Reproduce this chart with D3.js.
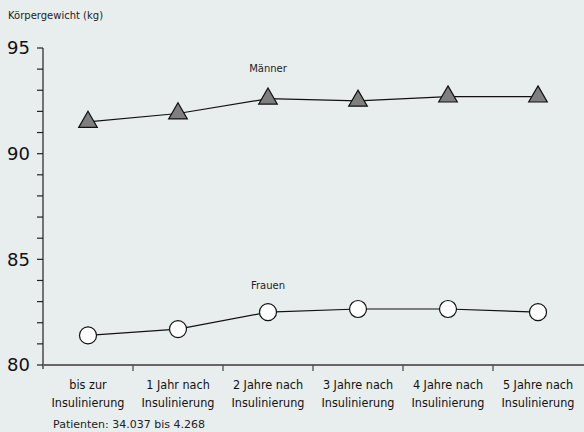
<!DOCTYPE html>
<html><head><meta charset="utf-8">
<script src="https://cdn.jsdelivr.net/npm/d3@7"></script>
<style>
html,body{margin:0;padding:0;background:#e8eeee;}
svg{display:block;font-family:Tahoma,"DejaVu Sans",Verdana,sans-serif;}
</style></head>
<body><svg id="c" width="584" height="432"></svg>
<script>
const categories = [["bis zur","Insulinierung"],["1 Jahr nach","Insulinierung"],["2 Jahre nach","Insulinierung"],["3 Jahre nach","Insulinierung"],["4 Jahre nach","Insulinierung"],["5 Jahre nach","Insulinierung"]];
const maenner = [91.5, 91.9, 92.6, 92.5, 92.7, 92.7];
const frauen = [81.4, 81.7, 82.5, 82.65, 82.65, 82.5];
const yTicks = [80, 85, 90, 95];
const seriesLabels = ["Männer", "Frauen"];

const svg = d3.select("#c");
const x = d3.scaleBand().domain(d3.range(categories.length)).range([43, 583]);
const y = d3.scaleLinear().domain([80, 95]).range([365, 48]);

svg.append("rect").attr("width",584).attr("height",432).attr("fill","#e8eeee");

// y axis
const ya = svg.append("g");
ya.append("line").attr("x1",43).attr("x2",43).attr("y1",y(95)).attr("y2",369).attr("stroke","#222").attr("stroke-width",1.2);
ya.selectAll(".mt").data(d3.range(80,96,1)).join("line")
  .attr("x1",37).attr("x2",43).attr("y1",d=>y(d)).attr("y2",d=>y(d)).attr("stroke","#222").attr("stroke-width",1.2);
ya.selectAll("text").data(yTicks).join("text")
  .attr("x",30).attr("y",d=>y(d)).attr("dy","0.36em").attr("text-anchor","end")
  .attr("font-size",18).attr("fill","#111").text(d=>d);

// x axis
const xa = svg.append("g");
xa.append("line").attr("x1",43).attr("x2",584).attr("y1",365).attr("y2",365).attr("stroke","#666").attr("stroke-width",2);
xa.selectAll(".xt").data(d3.range(1,categories.length)).join("line")
  .attr("x1",d=>x(d)).attr("x2",d=>x(d)).attr("y1",365).attr("y2",371).attr("stroke","#444").attr("stroke-width",1.2);
const lbl = xa.selectAll(".xl").data(categories).join("text")
  .attr("text-anchor","middle").attr("font-size",12.5).attr("fill","#111")
  .attr("font-family","'DejaVu Sans Condensed','DejaVu Sans',sans-serif");
lbl.append("tspan").attr("x",(d,i)=>x(i)+x.bandwidth()/2).attr("y",389).text(d=>d[0]);
lbl.append("tspan").attr("x",(d,i)=>x(i)+x.bandwidth()/2).attr("y",407).text(d=>d[1]);

const cx = i => x(i)+x.bandwidth()/2;
const line = d3.line().x((d,i)=>cx(i)).y(d=>y(d));

svg.append("path").attr("d",line(maenner)).attr("fill","none").attr("stroke","#111").attr("stroke-width",1.2);
svg.append("path").attr("d",line(frauen)).attr("fill","none").attr("stroke","#111").attr("stroke-width",1.2);

const tri = d3.symbol().type(d3.symbolTriangle).size(150);
svg.selectAll(".m").data(maenner).join("path")
  .attr("d", tri).attr("transform",(d,i)=>`translate(${cx(i)},${y(d)})`)
  .attr("fill","#7f7f7f").attr("stroke","#111").attr("stroke-width",1.2);

svg.selectAll(".f").data(frauen).join("circle")
  .attr("cx",(d,i)=>cx(i)).attr("cy",d=>y(d)).attr("r",8.5)
  .attr("fill","#fff").attr("stroke","#111").attr("stroke-width",1.2);

svg.append("text").attr("x",cx(2)).attr("y",72).attr("text-anchor","middle").attr("font-size",10).attr("fill","#222").text(seriesLabels[0]);
svg.append("text").attr("x",cx(2)).attr("y",289).attr("text-anchor","middle").attr("font-size",10).attr("fill","#222").text(seriesLabels[1]);

svg.append("text").attr("x",8).attr("y",19).attr("font-size",10).attr("fill","#222").text("Körpergewicht (kg)");
svg.append("text").attr("x",53).attr("y",428).attr("font-size",11).attr("fill","#222").text("Patienten: 34.037 bis 4.268");
</script></body></html>
